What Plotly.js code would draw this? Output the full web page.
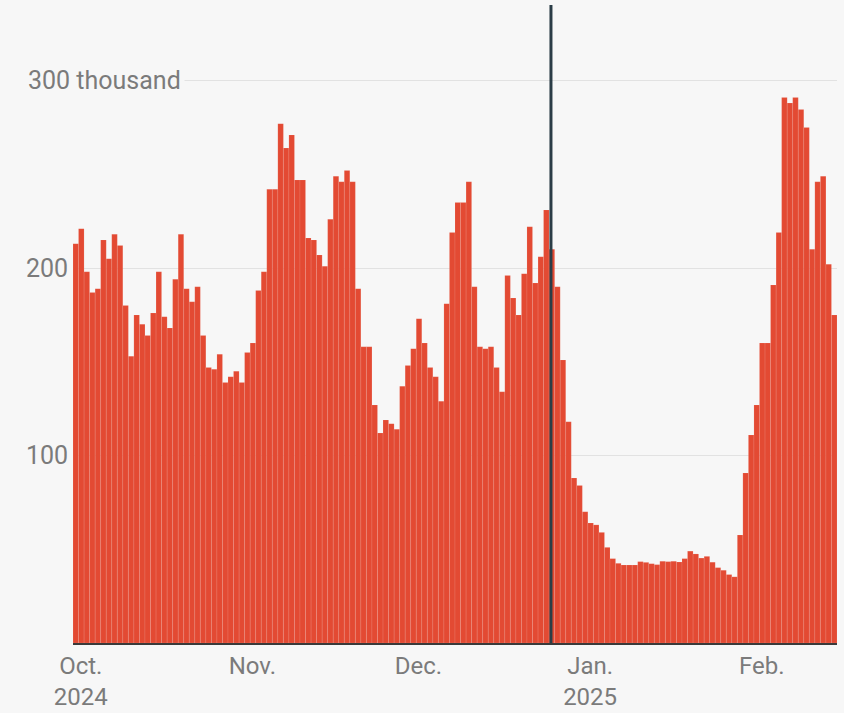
<!DOCTYPE html>
<html>
<head>
<meta charset="utf-8">
<script src="https://cdn.plot.ly/plotly-3.0.1.min.js"></script>
<style>
  html, body { margin: 0; padding: 0; background: #f7f7f7; }
  #chart { width: 844px; height: 713px; }
</style>
</head>
<body>
<div id="chart"></div>
<script>
// Daily values (thousands)
const oct2024 = [213, 221, 198, 187, 189, 215, 205, 218, 212, 180, 153, 175, 170, 164, 176, 198,
                 174, 168, 194, 218, 189, 182, 190, 164, 147, 146, 154, 139, 142, 145, 139];
const nov2024 = [155, 160, 188, 198, 242, 242, 277, 264, 271, 247, 247, 216, 215, 207, 201, 226,
                 249, 246, 252, 246, 189, 158, 158, 127, 112, 119, 117, 114, 137, 148];
const dec2024 = [157, 173, 160, 147, 142, 129, 181, 219, 235, 235, 246, 190, 158, 157, 158, 147,
                 134, 196, 184, 175, 197, 222, 192, 206, 231, 210, 190, 151, 118, 88, 84];
const jan2025 = [70, 64, 63, 59, 51, 45, 42.5, 41.6, 41.6, 41.6, 43.4, 43, 42.3, 41.8, 43.6, 43.4,
                 43.6, 43.2, 45, 49, 47.5, 45.3, 46.2, 43.1, 40.2, 38.8, 36.5, 35.3, 57.6, 90.7, 111];
const feb2025 = [127, 160, 160, 191, 219, 291, 288, 291, 284.5, 275, 210, 246, 249, 202, 175];

const months = [
  { prefix: '2024-10-', values: oct2024 },
  { prefix: '2024-11-', values: nov2024 },
  { prefix: '2024-12-', values: dec2024 },
  { prefix: '2025-01-', values: jan2025 },
  { prefix: '2025-02-', values: feb2025 }
];

const xTickVals = ['2024-10-01', '2024-11-01', '2024-12-01', '2025-01-01', '2025-02-01'];
const xTickText = ['Oct.<br>2024', 'Nov.', 'Dec.', 'Jan.<br>2025', 'Feb.'];
const yTickVals = [100, 200, 300];
const yTickText = ['100', '200', '300 thousand'];
const markerDate = '2024-12-25 20:00';

const dates = [], vals = [];
months.forEach(m => {
  m.values.forEach((v, i) => {
    dates.push(m.prefix + String(i + 1).padStart(2, '0'));
    vals.push(v);
  });
});

const FONT = 'Roboto, "Noto Sans", sans-serif';
const TXT = '#7b7b7b';

const trace = {
  type: 'bar',
  x: dates,
  y: vals,
  marker: { color: '#e34a33', line: { color: 'rgba(255,255,255,0.16)', width: 0.6 } },
  hoverinfo: 'x+y'
};

const annotations = yTickVals.map((v, i) => {
  const a = {
    xref: 'paper', yref: 'y',
    x: (24 - 73) / 764, y: v,
    xanchor: 'left', yanchor: 'middle',
    text: yTickText[i], showarrow: false,
    font: { family: FONT, size: 25, color: TXT }
  };
  if (i === yTickVals.length - 1) { a.bgcolor = '#f7f7f7'; a.borderpad = 3; }
  return a;
});

const layout = {
  width: 844, height: 713,
  margin: { l: 73, r: 7, t: 5, b: 70 },
  paper_bgcolor: '#f7f7f7',
  plot_bgcolor: '#f7f7f7',
  bargap: 0,
  showlegend: false,
  xaxis: {
    type: 'date',
    range: ['2024-09-30 12:00', '2025-02-15 12:00'],
    tickvals: xTickVals,
    ticktext: xTickText,
    ticks: '',
    showgrid: false,
    zeroline: false,
    showline: true, linecolor: '#3a3a3a', linewidth: 2,
    ticklabelshift: 5,
    ticklabelstandoff: 0,
    tickfont: { family: FONT, size: 24, color: TXT },
    fixedrange: true
  },
  yaxis: {
    range: [0, 340.3],
    tickvals: yTickVals,
    showticklabels: false,
    showgrid: true, gridcolor: '#e2e2e2', gridwidth: 1,
    zeroline: false, ticks: '',
    fixedrange: true
  },
  annotations: annotations,
  shapes: [{
    type: 'line', layer: 'above',
    xref: 'x', yref: 'paper',
    x0: markerDate, x1: markerDate, y0: 0, y1: 1,
    line: { color: '#2b3d47', width: 3 }
  }]
};

Plotly.newPlot('chart', [trace], layout, { displayModeBar: false, staticPlot: true });
</script>
</body>
</html>
